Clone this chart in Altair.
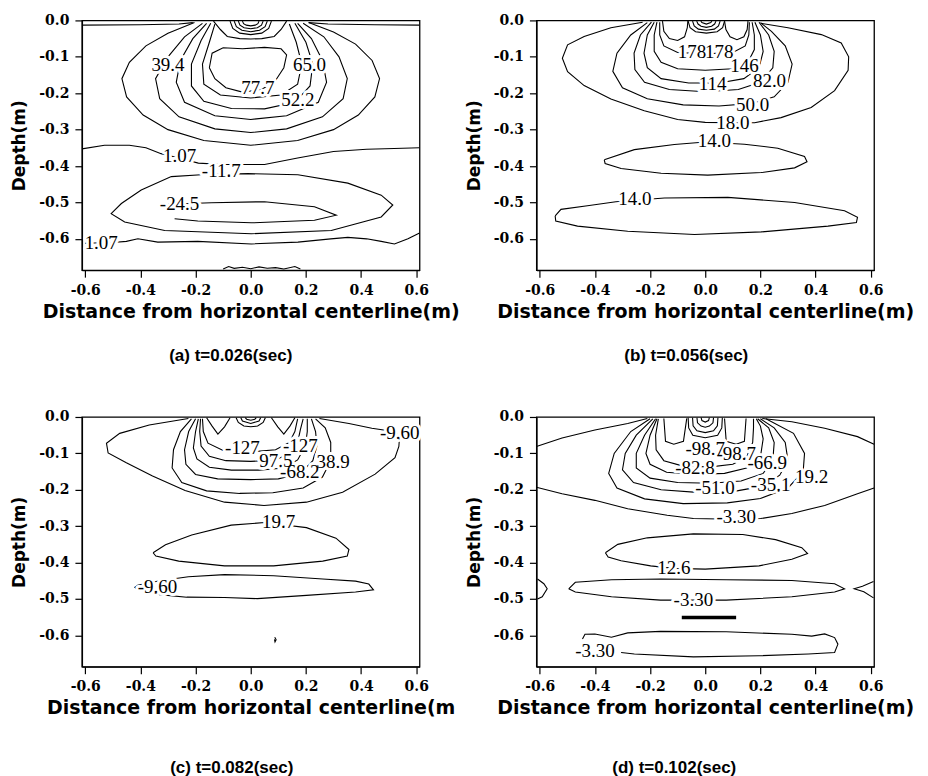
import altair as alt
import pandas as pd

# ---------------- axis ticks ----------------
X_TICKS = [-0.6, -0.5, -0.4, -0.3, -0.2, -0.1, 0.0, 0.1, 0.2, 0.3, 0.4, 0.5, 0.6]
Y_TICKS = [-0.6, -0.5, -0.4, -0.3, -0.2, -0.1, 0.0]
X_DOMAIN = [-0.612, 0.612]
Y_DOMAIN = [-0.686, 0.0]

# ---------------- panel (a) contours (x, depth) ----------------
A_TOP_L = [(-0.612, -0.013), (-0.40, -0.012), (-0.26, -0.010), (-0.21, -0.006)]
A_TOP_R = [(0.21, -0.006), (0.28, -0.010), (0.45, -0.012), (0.612, -0.013)]
A_ARC1 = [(-0.135, -0.002), (-0.11, -0.025), (-0.085, -0.044), (-0.04, -0.05), (0.0, -0.051),
          (0.04, -0.05), (0.085, -0.044), (0.11, -0.025), (0.13, -0.002)]
A_ARC2 = [(-0.075, -0.002), (-0.065, -0.022), (-0.04, -0.035), (0.0, -0.039), (0.04, -0.035),
          (0.065, -0.022), (0.075, -0.002)]
A_ARC3 = [(-0.06, -0.002), (-0.052, -0.017), (-0.032, -0.027), (0.0, -0.031), (0.032, -0.027),
          (0.052, -0.017), (0.06, -0.002)]
A_ARC4 = [(-0.045, -0.002), (-0.039, -0.013), (-0.024, -0.02), (0.0, -0.023), (0.024, -0.02),
          (0.039, -0.013), (0.045, -0.002)]
A_ARC5 = [(-0.03, -0.002), (-0.026, -0.009), (-0.016, -0.013), (0.0, -0.015), (0.016, -0.013),
          (0.026, -0.009), (0.03, -0.002)]
A_U1 = [(-0.204, -0.006), (-0.30, -0.035), (-0.38, -0.07), (-0.44, -0.115), (-0.467, -0.16),
        (-0.45, -0.21), (-0.39, -0.26), (-0.30, -0.30), (-0.17, -0.33), (0.0, -0.343), (0.17, -0.33),
        (0.30, -0.30), (0.39, -0.26), (0.45, -0.21), (0.467, -0.16), (0.44, -0.11), (0.38, -0.065),
        (0.30, -0.032), (0.21, -0.006)]
A_U2 = [(-0.175, -0.008), (-0.24, -0.045), (-0.30, -0.10), (-0.345, -0.16), (-0.33, -0.215),
        (-0.26, -0.265), (-0.13, -0.298), (0.0, -0.308), (0.13, -0.298), (0.26, -0.265),
        (0.335, -0.215), (0.35, -0.16), (0.32, -0.10), (0.265, -0.045), (0.19, -0.008)]
A_U3 = [(-0.16, -0.008), (-0.21, -0.05), (-0.255, -0.11), (-0.27, -0.17), (-0.24, -0.225),
        (-0.13, -0.262), (0.0, -0.272), (0.13, -0.262), (0.245, -0.225), (0.275, -0.17),
        (0.26, -0.11), (0.22, -0.05), (0.17, -0.008)]
A_U4 = [(-0.145, -0.008), (-0.18, -0.055), (-0.215, -0.12), (-0.215, -0.18), (-0.17, -0.222),
        (-0.07, -0.242), (0.05, -0.243), (0.16, -0.225), (0.215, -0.18), (0.225, -0.12),
        (0.2, -0.06), (0.16, -0.008)]
A_U5 = [(-0.13, -0.01), (-0.15, -0.06), (-0.175, -0.12), (-0.17, -0.175), (-0.11, -0.205),
        (0.0, -0.213), (0.11, -0.205), (0.17, -0.175), (0.185, -0.12), (0.165, -0.06), (0.14, -0.01)]
A_CORE = [(-0.15, -0.13), (-0.14, -0.09), (-0.10, -0.075), (-0.03, -0.078), (0.05, -0.074),
          (0.11, -0.078), (0.13, -0.095), (0.12, -0.13), (0.09, -0.165), (0.04, -0.19),
          (-0.03, -0.197), (-0.09, -0.185), (-0.13, -0.16), (-0.15, -0.13)]
A_P107 = [(-0.612, -0.353), (-0.53, -0.343), (-0.44, -0.343), (-0.38, -0.35), (-0.325, -0.366),
          (-0.25, -0.38), (-0.19, -0.392), (-0.10, -0.396), (0.05, -0.396), (0.17, -0.378),
          (0.30, -0.36), (0.42, -0.354), (0.52, -0.352), (0.612, -0.35)]
A_M117 = [(-0.18, -0.424), (-0.01, -0.421), (0.171, -0.424), (0.352, -0.447), (0.473, -0.48),
          (0.515, -0.507), (0.473, -0.54), (0.292, -0.577), (0.002, -0.586), (-0.312, -0.577),
          (-0.457, -0.554), (-0.506, -0.531), (-0.469, -0.503), (-0.397, -0.466), (-0.288, -0.429),
          (-0.18, -0.424)]
A_M245 = [(-0.30, -0.505), (-0.143, -0.501), (0.05, -0.498), (0.231, -0.512), (0.31, -0.535),
          (0.231, -0.549), (0.002, -0.556), (-0.192, -0.551), (-0.276, -0.545)]
A_L107 = [(-0.60, -0.612), (-0.50, -0.61), (-0.451, -0.607), (-0.409, -0.600), (-0.337, -0.609),
          (-0.192, -0.607), (0.002, -0.614), (0.171, -0.609), (0.29, -0.60), (0.352, -0.596),
          (0.42, -0.60), (0.473, -0.607), (0.521, -0.614), (0.57, -0.60), (0.612, -0.584)]
A_NOISE = [(-0.10, -0.683), (-0.08, -0.676), (-0.06, -0.681), (-0.03, -0.678), (0.0, -0.682),
           (0.03, -0.677), (0.06, -0.681), (0.09, -0.679), (0.12, -0.683), (0.16, -0.676),
           (0.18, -0.683)]
A_LABELS = ["39.4", "65.0", "77.7", "52.2", "1.07", "-11.7", "-24.5", "1.07"]
A_LABEL_X = [-0.30, 0.213, 0.026, 0.171, -0.258, -0.107, -0.258, -0.542]
A_LABEL_Y = [-0.122, -0.122, -0.186, -0.22, -0.373, -0.415, -0.503, -0.612]

# ---------------- panel (b) ----------------
B_ARC1 = [(-0.062, -0.002), (-0.055, -0.02), (-0.035, -0.031), (0.004, -0.035), (0.043, -0.031),
          (0.063, -0.02), (0.07, -0.002)]
B_ARC2 = [(-0.046, -0.002), (-0.04, -0.015), (-0.025, -0.024), (0.004, -0.027), (0.033, -0.024),
          (0.048, -0.015), (0.054, -0.002)]
B_ARC3 = [(-0.031, -0.002), (-0.026, -0.01), (-0.015, -0.016), (0.004, -0.019), (0.023, -0.016),
          (0.034, -0.01), (0.039, -0.002)]
B_ARC4 = [(-0.016, -0.002), (-0.012, -0.006), (0.004, -0.01), (0.02, -0.006), (0.024, -0.002)]
B_LOBE_L = [(-0.155, -0.002), (-0.15, -0.03), (-0.13, -0.05), (-0.10, -0.055), (-0.075, -0.045),
            (-0.065, -0.02), (-0.063, -0.002)]
B_LOBE_R = [(0.07, -0.002), (0.075, -0.025), (0.09, -0.045), (0.115, -0.053), (0.14, -0.045),
            (0.152, -0.025), (0.155, -0.002)]
B_OUT = [(-0.227, -0.005), (-0.342, -0.02), (-0.439, -0.044), (-0.499, -0.067), (-0.518, -0.104),
         (-0.499, -0.141), (-0.439, -0.179), (-0.342, -0.216), (-0.221, -0.248), (-0.10, -0.272),
         (0.0, -0.28), (0.10, -0.281), (0.179, -0.281), (0.275, -0.267), (0.384, -0.239),
         (0.469, -0.193), (0.518, -0.137), (0.52, -0.10), (0.493, -0.062), (0.421, -0.039),
         (0.30, -0.02), (0.203, -0.008)]
B_U1 = [(-0.21, -0.006), (-0.27, -0.04), (-0.32, -0.09), (-0.335, -0.14), (-0.30, -0.185),
        (-0.21, -0.215), (-0.08, -0.232), (0.05, -0.235), (0.17, -0.228), (0.25, -0.21),
        (0.30, -0.17), (0.315, -0.12), (0.29, -0.07), (0.24, -0.03), (0.20, -0.006)]
B_U2 = [(-0.195, -0.005), (-0.235, -0.04), (-0.258, -0.09), (-0.255, -0.135), (-0.22, -0.17),
        (-0.13, -0.19), (0.0, -0.196), (0.12, -0.19), (0.20, -0.17), (0.245, -0.13),
        (0.25, -0.085), (0.23, -0.04), (0.195, -0.005)]
B_U3 = [(-0.185, -0.005), (-0.21, -0.04), (-0.222, -0.09), (-0.21, -0.13), (-0.16, -0.16),
        (-0.06, -0.172), (0.05, -0.172), (0.14, -0.16), (0.195, -0.13), (0.21, -0.085),
        (0.20, -0.04), (0.18, -0.005)]
B_U4 = [(-0.175, -0.005), (-0.185, -0.04), (-0.185, -0.085), (-0.16, -0.115), (-0.1, -0.133),
        (0.0, -0.137), (0.1, -0.133), (0.155, -0.115), (0.178, -0.08), (0.178, -0.04), (0.17, -0.005)]
B_U5 = [(-0.165, -0.005), (-0.165, -0.04), (-0.15, -0.07), (-0.1, -0.088), (0.0, -0.092),
        (0.1, -0.088), (0.145, -0.07), (0.158, -0.04), (0.16, -0.005)]
B_E1 = [(-0.366, -0.383), (-0.257, -0.355), (-0.112, -0.341), (0.0, -0.334), (0.142, -0.34),
        (0.263, -0.351), (0.36, -0.374), (0.369, -0.388), (0.324, -0.405), (0.203, -0.418),
        (0.009, -0.425), (-0.16, -0.42), (-0.305, -0.407), (-0.363, -0.393), (-0.366, -0.383)]
B_E2 = [(-0.544, -0.537), (-0.523, -0.519), (-0.427, -0.509), (-0.324, -0.498), (-0.148, -0.488),
        (0.082, -0.486), (0.324, -0.50), (0.505, -0.523), (0.552, -0.541), (0.548, -0.555),
        (0.445, -0.565), (0.203, -0.581), (-0.039, -0.588), (-0.281, -0.579), (-0.463, -0.565),
        (-0.542, -0.551), (-0.544, -0.537)]
B_LABELS = ["178", "178", "146", "114", "82.0", "50.0", "18.0", "14.0", "14.0"]
B_LABEL_X = [-0.048, 0.051, 0.142, 0.027, 0.233, 0.172, 0.10, 0.033, -0.255]
B_LABEL_Y = [-0.087, -0.087, -0.126, -0.176, -0.167, -0.232, -0.281, -0.332, -0.49]

# ---------------- panel (c) ----------------
C_ARC1 = [(-0.053, -0.002), (-0.045, -0.015), (-0.025, -0.025), (0.0, -0.027), (0.025, -0.025),
          (0.045, -0.015), (0.053, -0.002)]
C_ARC2 = [(-0.036, -0.002), (-0.03, -0.011), (0.0, -0.018), (0.03, -0.011), (0.036, -0.002)]
C_ARC3 = [(-0.02, -0.002), (-0.015, -0.006), (0.0, -0.009), (0.015, -0.006), (0.02, -0.002)]
C_LOBE_L = [(-0.16, -0.002), (-0.14, -0.025), (-0.119, -0.047), (-0.095, -0.027), (-0.075, -0.002)]
C_LOBE_R = [(0.075, -0.002), (0.098, -0.027), (0.12, -0.047), (0.142, -0.025), (0.16, -0.002)]
C_OUT = [(-0.226, -0.004), (-0.368, -0.022), (-0.475, -0.045), (-0.523, -0.072), (-0.517, -0.099),
         (-0.451, -0.126), (-0.356, -0.162), (-0.238, -0.202), (-0.095, -0.234), (0.048, -0.243),
         (0.202, -0.234), (0.333, -0.207), (0.451, -0.157), (0.523, -0.112), (0.537, -0.081),
         (0.54, -0.05), (0.50, -0.038), (0.439, -0.031), (0.356, -0.018), (0.249, -0.004)]
C_U1 = [(-0.215, -0.005), (-0.255, -0.04), (-0.28, -0.09), (-0.285, -0.14), (-0.25, -0.18),
        (-0.16, -0.203), (-0.04, -0.21), (0.08, -0.208), (0.19, -0.195), (0.26, -0.165),
        (0.29, -0.12), (0.29, -0.07), (0.27, -0.03), (0.235, -0.005)]
C_U2 = [(-0.2, -0.005), (-0.225, -0.04), (-0.24, -0.09), (-0.235, -0.13), (-0.2, -0.158),
        (-0.12, -0.17), (0.0, -0.172), (0.1, -0.17), (0.18, -0.155), (0.225, -0.12),
        (0.24, -0.08), (0.235, -0.04), (0.22, -0.005)]
C_U3 = [(-0.19, -0.005), (-0.2, -0.04), (-0.208, -0.085), (-0.195, -0.115), (-0.15, -0.138),
        (-0.07, -0.146), (0.03, -0.146), (0.12, -0.14), (0.17, -0.118), (0.198, -0.08),
        (0.205, -0.04), (0.205, -0.005)]
C_U4 = [(-0.182, -0.005), (-0.185, -0.04), (-0.18, -0.08), (-0.15, -0.108), (-0.09, -0.12),
        (0.0, -0.122), (0.09, -0.118), (0.14, -0.1), (0.17, -0.07), (0.18, -0.035), (0.19, -0.005)]
C_U5 = [(-0.175, -0.005), (-0.172, -0.04), (-0.155, -0.072), (-0.1, -0.092), (0.0, -0.096),
        (0.09, -0.09), (0.14, -0.07), (0.16, -0.04), (0.17, -0.005)]
C_E197 = [(-0.354, -0.373), (-0.309, -0.351), (-0.214, -0.324), (-0.071, -0.297), (0.05, -0.29),
          (0.202, -0.304), (0.309, -0.333), (0.356, -0.364), (0.35, -0.382), (0.261, -0.396),
          (0.083, -0.409), (-0.095, -0.409), (-0.261, -0.396), (-0.344, -0.382), (-0.354, -0.373)]
C_E96 = [(-0.232, -0.495), (-0.095, -0.496), (0.024, -0.499), (0.202, -0.49), (0.38, -0.481),
         (0.445, -0.475), (0.428, -0.459), (0.38, -0.451), (0.261, -0.445), (0.083, -0.436),
         (-0.095, -0.433), (-0.226, -0.439), (-0.33, -0.45), (-0.41, -0.462), (-0.42, -0.468),
         (-0.41, -0.474), (-0.33, -0.488), (-0.232, -0.495)]
C_DOT = [(0.087, -0.605), (0.092, -0.612), (0.088, -0.618), (0.086, -0.611)]
C_LABELS = ["-127", "-127", "97.5", "-68.2", "38.9", "-9.60", "19.7", "-9.60"]
C_LABEL_X = [-0.03, 0.18, 0.091, 0.178, 0.299, 0.54, 0.101, -0.338]
C_LABEL_Y = [-0.085, -0.081, -0.121, -0.151, -0.123, -0.043, -0.288, -0.468]

# ---------------- panel (d) ----------------
D_TOP_L = [(-0.612, -0.081), (-0.519, -0.058), (-0.40, -0.036), (-0.281, -0.018), (-0.21, -0.004)]
D_TOP_R = [(0.207, -0.004), (0.314, -0.013), (0.433, -0.031), (0.552, -0.054), (0.612, -0.075)]
D_ARC1 = [(-0.062, -0.002), (-0.06, -0.03), (-0.045, -0.05), (0.0, -0.057), (0.045, -0.05),
          (0.06, -0.03), (0.062, -0.002)]
D_ARC2 = [(-0.046, -0.002), (-0.044, -0.024), (-0.03, -0.038), (0.0, -0.043), (0.03, -0.038),
          (0.044, -0.024), (0.046, -0.002)]
D_ARC3 = [(-0.03, -0.002), (-0.028, -0.016), (-0.015, -0.025), (0.0, -0.028), (0.015, -0.025),
          (0.028, -0.016), (0.03, -0.002)]
D_ARC4 = [(-0.015, -0.002), (-0.012, -0.01), (0.0, -0.014), (0.012, -0.01), (0.015, -0.002)]
D_LOBE_L = [(-0.15, -0.004), (-0.144, -0.067), (-0.114, -0.075), (-0.079, -0.067), (-0.067, -0.004)]
D_LOBE_R = [(0.07, -0.004), (0.076, -0.067), (0.112, -0.075), (0.142, -0.067), (0.148, -0.004)]
D_U1 = [(-0.2, -0.005), (-0.27, -0.04), (-0.33, -0.1), (-0.35, -0.155), (-0.32, -0.195),
        (-0.22, -0.225), (-0.08, -0.238), (0.08, -0.236), (0.2, -0.224), (0.3, -0.195),
        (0.355, -0.15), (0.36, -0.1), (0.32, -0.045), (0.22, -0.005)]
D_U2 = [(-0.19, -0.005), (-0.25, -0.05), (-0.29, -0.1), (-0.3, -0.145), (-0.26, -0.18),
        (-0.16, -0.2), (-0.03, -0.207), (0.1, -0.205), (0.21, -0.19), (0.27, -0.16),
        (0.3, -0.12), (0.29, -0.07), (0.25, -0.03), (0.2, -0.005)]
D_U3 = [(-0.18, -0.005), (-0.22, -0.05), (-0.25, -0.1), (-0.25, -0.14), (-0.2, -0.168),
        (-0.1, -0.18), (0.02, -0.182), (0.13, -0.176), (0.21, -0.155), (0.245, -0.12),
        (0.25, -0.07), (0.23, -0.03), (0.19, -0.005)]
D_U4 = [(-0.175, -0.005), (-0.2, -0.05), (-0.215, -0.1), (-0.2, -0.13), (-0.14, -0.152),
        (-0.04, -0.158), (0.07, -0.155), (0.15, -0.14), (0.2, -0.11), (0.21, -0.06),
        (0.2, -0.025), (0.185, -0.005)]
D_U5 = [(-0.17, -0.005), (-0.18, -0.05), (-0.178, -0.09), (-0.15, -0.12), (-0.08, -0.135),
        (0.02, -0.137), (0.1, -0.13), (0.15, -0.11), (0.172, -0.07), (0.175, -0.03), (0.175, -0.005)]
D_OUT = [(-0.612, -0.193), (-0.519, -0.211), (-0.40, -0.229), (-0.281, -0.252), (-0.138, -0.27),
         (-0.043, -0.279), (0.10, -0.281), (0.201, -0.279), (0.314, -0.265), (0.433, -0.243),
         (0.552, -0.211), (0.612, -0.195)]
D_E126 = [(-0.362, -0.373), (-0.317, -0.35), (-0.21, -0.332), (-0.043, -0.321), (0.136, -0.323),
          (0.255, -0.337), (0.35, -0.359), (0.371, -0.375), (0.314, -0.391), (0.195, -0.409),
          (0.0, -0.418), (-0.114, -0.416), (-0.198, -0.409), (-0.305, -0.395), (-0.352, -0.385),
          (-0.362, -0.373)]
D_E33 = [(-0.495, -0.472), (-0.471, -0.454), (-0.34, -0.447), (-0.162, -0.445), (0.076, -0.447),
         (0.314, -0.449), (0.469, -0.458), (0.505, -0.472), (0.469, -0.481), (0.314, -0.494),
         (0.076, -0.503), (-0.162, -0.503), (-0.34, -0.494), (-0.471, -0.481), (-0.495, -0.472)]
D_EDGE_L = [(-0.608, -0.445), (-0.585, -0.458), (-0.573, -0.472), (-0.591, -0.494), (-0.608, -0.5)]
D_EDGE_R = [(0.61, -0.452), (0.57, -0.465), (0.54, -0.472), (0.575, -0.48), (0.61, -0.497)]
D_E33L = [(-0.305, -0.647), (-0.257, -0.651), (-0.043, -0.659), (0.195, -0.656), (0.374, -0.651),
          (0.469, -0.647), (0.481, -0.624), (0.469, -0.606), (0.433, -0.596), (0.386, -0.602),
          (0.314, -0.597), (0.076, -0.59), (-0.162, -0.589), (-0.281, -0.593), (-0.34, -0.605),
          (-0.40, -0.596), (-0.436, -0.597), (-0.445, -0.61)]
D_BAR = [(-0.085, -0.551), (0.112, -0.551)]
D_LABELS = ["-98.7", "-98.7", "-66.9", "-82.8", "-51.0", "-35.1", "19.2", "-3.30", "12.6",
            "-3.30", "-3.30"]
D_LABEL_X = [0.0, 0.112, 0.225, -0.037, 0.035, 0.237, 0.386, 0.112, -0.114, -0.043, -0.40]
D_LABEL_Y = [-0.087, -0.103, -0.126, -0.141, -0.195, -0.186, -0.166, -0.274, -0.416, -0.503, -0.642]

PANEL_A = [A_TOP_L, A_TOP_R, A_ARC1, A_ARC2, A_ARC3, A_ARC4, A_ARC5, A_U1, A_U2, A_U3, A_U4,
           A_U5, A_CORE, A_P107, A_M117, A_M245, A_L107, A_NOISE]
PANEL_B = [B_ARC1, B_ARC2, B_ARC3, B_ARC4, B_LOBE_L, B_LOBE_R, B_OUT, B_U1, B_U2, B_U3, B_U4,
           B_U5, B_E1, B_E2]
PANEL_C = [C_ARC1, C_ARC2, C_ARC3, C_LOBE_L, C_LOBE_R, C_OUT, C_U1, C_U2, C_U3, C_U4, C_U5,
           C_E197, C_E96, C_DOT]
PANEL_D = [D_TOP_L, D_TOP_R, D_ARC1, D_ARC2, D_ARC3, D_ARC4, D_LOBE_L, D_LOBE_R, D_U1, D_U2,
           D_U3, D_U4, D_U5, D_OUT, D_E126, D_E33, D_EDGE_L, D_EDGE_R, D_E33L]

CAPTIONS = ["(a) t=0.026(sec)", "(b) t=0.056(sec)", "(c) t=0.082(sec)", "(d) t=0.102(sec)"]
X_TITLES = ["Distance from horizontal centerline(m)", "Distance from horizontal centerline(m)",
            "Distance from horizontal centerline(m", "Distance from horizontal centerline(m)"]
Y_TITLE = "Depth(m)"

XMAJ = "abs(datum.value*5 - round(datum.value*5)) < 0.001"
LBL = "replace(format(datum.value, '.1f'), '\u2212', '-')"


def lines_df(curves):
    rows = []
    for ci, pts in enumerate(curves):
        for oi, (x, y) in enumerate(pts):
            rows.append({"c": ci, "o": oi, "x": x, "y": y})
    return pd.DataFrame(rows)


def x_enc(title):
    return alt.X("x:Q", scale=alt.Scale(domain=X_DOMAIN, nice=False, zero=False),
                 axis=alt.Axis(values=X_TICKS, title=title, grid=False, labelFlush=False,
                               labelOverlap=False,
                               labelExpr=f"({XMAJ}) ? {LBL} : ''",
                               tickSize={"condition": {"test": XMAJ, "value": 7}, "value": 4},
                               labelPadding=6, titlePadding=5))


def y_enc():
    return alt.Y("y:Q", scale=alt.Scale(domain=Y_DOMAIN, nice=False, zero=False),
                 axis=alt.Axis(values=Y_TICKS, title=Y_TITLE, grid=False, labelFlush=False,
                               labelOverlap=False, titleFontSize=17,
                               labelExpr=LBL,
                               tickSize=7, labelPadding=6, titlePadding=10))


def panel(curves, labels, lx, ly, caption, xtitle, cap_offset, cap_dx, bar=None):
    ldf = pd.DataFrame({"t": labels, "x": lx, "y": ly})
    base = alt.Chart(lines_df(curves)).mark_line(color="black", strokeWidth=1.1, clip=True).encode(
        x=x_enc(xtitle), y=y_enc(), detail="c:N", order="o:Q")
    layers = [base]
    if bar is not None:
        layers.append(alt.Chart(lines_df([bar])).mark_line(color="black", strokeWidth=3.5).encode(
            x="x:Q", y="y:Q", detail="c:N", order="o:Q"))
    halo = alt.Chart(ldf).mark_text(font="Liberation Serif", fontSize=19, color="white",
                                    stroke="white", strokeWidth=6, strokeJoin="round").encode(
        x="x:Q", y="y:Q", text="t:N")
    txt = alt.Chart(ldf).mark_text(font="Liberation Serif", fontSize=19, color="black").encode(
        x="x:Q", y="y:Q", text="t:N")
    layers += [halo, txt]
    return alt.layer(*layers).properties(
        width=338, height=250,
        title=alt.TitleParams(caption, orient="bottom", anchor="middle", frame="group",
                              font="Liberation Sans", fontSize=17, fontWeight="bold",
                              color="black", offset=cap_offset, dx=cap_dx))


pa = panel(PANEL_A, A_LABELS, A_LABEL_X, A_LABEL_Y, CAPTIONS[0], X_TITLES[0], 27, -20)
pb = panel(PANEL_B, B_LABELS, B_LABEL_X, B_LABEL_Y, CAPTIONS[1], X_TITLES[1], 27, -19)
pc = panel(PANEL_C, C_LABELS, C_LABEL_X, C_LABEL_Y, CAPTIONS[2], X_TITLES[2], 42, -19)
pd_ = panel(PANEL_D, D_LABELS, D_LABEL_X, D_LABEL_Y, CAPTIONS[3], X_TITLES[3], 42, -31, bar=D_BAR)

chart = alt.concat(pa, pb, pc, pd_, columns=2, spacing={"row": 147, "column": 117},
                   bounds="flush").properties(
    padding={"left": 2, "top": 4, "right": 5, "bottom": 5},
    background="white"
).configure_view(stroke="black", strokeWidth=1.3).configure_axis(
    domainColor="black", domainWidth=1.3, tickColor="black", tickWidth=1.2,
    labelColor="black", titleColor="black",
    labelFont="DejaVu Serif", labelFontWeight="bold", labelFontSize=14,
    titleFont="DejaVu Sans", titleFontWeight="bold", titleFontSize=19
)

chart.save("out.html", embed_options={"renderer": "svg", "actions": False})
